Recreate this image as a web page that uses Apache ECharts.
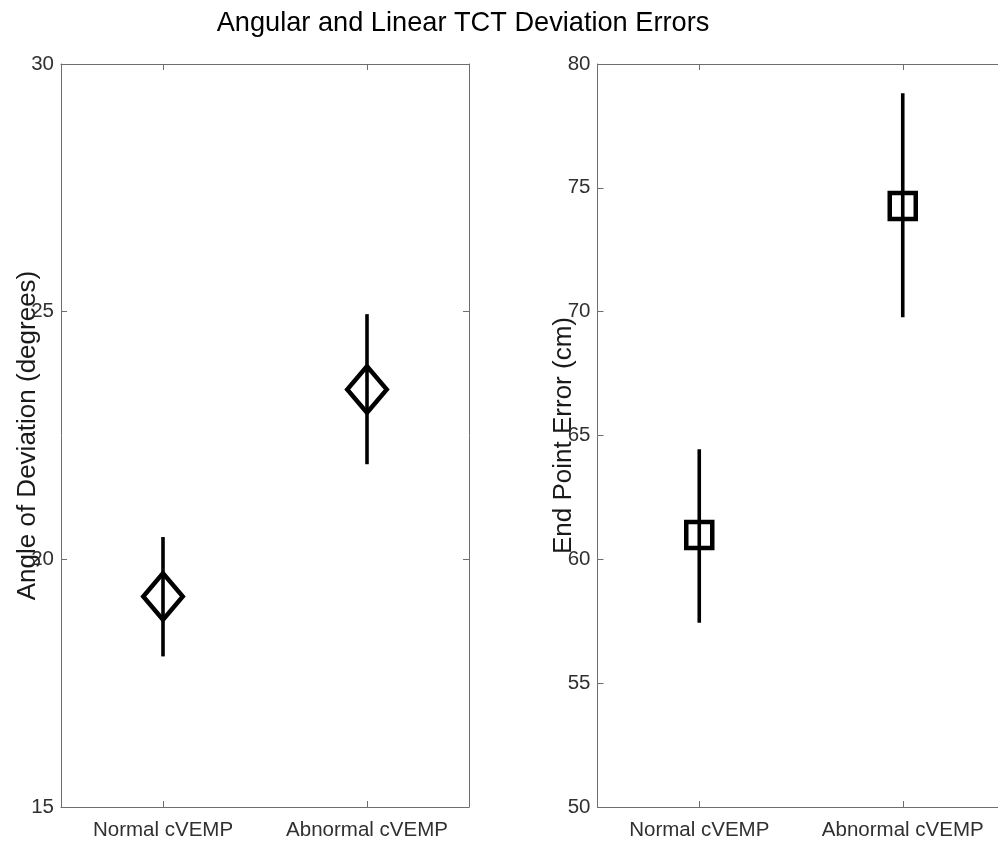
<!DOCTYPE html>
<html>
<head>
<meta charset="utf-8">
<script src="https://cdn.jsdelivr.net/npm/echarts@6/dist/echarts.min.js"></script>
<style>
  html, body { margin: 0; padding: 0; background: #fff; overflow: hidden; }
  #chart { width: 1012px; height: 842px; }
</style>
</head>
<body>
<div id="chart"></div>
<script>
const titleText = 'Angular and Linear TCT Deviation Errors';
const categories = ['Normal cVEMP', 'Abnormal cVEMP'];

const angleMean = [19.25, 23.43];
const angleLow  = [18.04, 21.92];
const angleHigh = [20.45, 24.95];
const angleTicks = [15, 20, 25, 30];
const angleName = 'Angle of Deviation (degrees)';

const endMean = [60.98, 74.27];
const endLow  = [57.44, 69.77];
const endHigh = [64.44, 78.82];
const endTicks = [50, 55, 60, 65, 70, 75, 80];
const endName = 'End Point Error (cm)';

const FONT = '"Liberation Sans", Arial, sans-serif';
const AXIS_COLOR = '#6e6e6e';
const LABEL_COLOR = '#303030';

function xAxes(gridIndex) {
  const base = {
    gridIndex: gridIndex,
    type: 'category',
    data: categories,
    boundaryGap: true,
    axisLine: { show: true, lineStyle: { color: AXIS_COLOR, width: 1 } },
    axisTick: { show: true, inside: true, alignWithLabel: true, interval: 0, length: 6, lineStyle: { color: AXIS_COLOR } },
    splitLine: { show: false }
  };
  return [
    Object.assign({}, base, {
      position: 'bottom',
      axisLabel: { show: true, interval: 0, hideOverlap: false, fontFamily: FONT, fontSize: 20.5, color: LABEL_COLOR, margin: 13 }
    }),
    Object.assign({}, base, {
      position: 'top',
      axisLabel: { show: false }
    })
  ];
}

function yAxes(gridIndex, ticks, name, gap) {
  const base = {
    gridIndex: gridIndex,
    type: 'value',
    min: ticks[0],
    max: ticks[ticks.length - 1],
    interval: ticks[1] - ticks[0],
    axisLine: { show: true, lineStyle: { color: AXIS_COLOR, width: 1 } },
    axisTick: { show: true, inside: true, length: 6, lineStyle: { color: AXIS_COLOR } },
    splitLine: { show: false }
  };
  return [
    Object.assign({}, base, {
      position: 'left',
      name: name,
      nameLocation: 'middle',
      nameGap: gap,
      nameMoveOverlap: false,
      nameTextStyle: { fontFamily: FONT, fontSize: 26, color: '#1a1a1a' },
      axisLabel: { show: true, fontFamily: FONT, fontSize: 20.5, color: LABEL_COLOR, margin: 7 }
    }),
    Object.assign({}, base, {
      position: 'right',
      axisLabel: { show: false }
    })
  ];
}

function errorSeries(xIdx, yIdx, low, high) {
  return {
    type: 'custom',
    xAxisIndex: xIdx,
    yAxisIndex: yIdx,
    data: categories.map((c, i) => [i, low[i], high[i]]),
    encode: { x: 0, y: [1, 2] },
    renderItem: function (params, api) {
      const i = api.value(0);
      const p1 = api.coord([i, api.value(1)]);
      const p2 = api.coord([i, api.value(2)]);
      return {
        type: 'line',
        shape: { x1: p1[0], y1: p1[1], x2: p2[0], y2: p2[1] },
        style: { stroke: '#000', lineWidth: 3.6, lineCap: 'butt' }
      };
    },
    z: 2
  };
}

function markerSeries(xIdx, yIdx, mean, symbol, size) {
  return {
    type: 'scatter',
    xAxisIndex: xIdx,
    yAxisIndex: yIdx,
    data: mean.map((v, i) => [i, v]),
    symbol: symbol,
    symbolSize: size,
    itemStyle: { color: 'rgba(0,0,0,0)', borderColor: '#000', borderWidth: 4.5, borderJoin: 'miter', opacity: 1 },
    emphasis: { disabled: true },
    z: 3
  };
}

const chart = echarts.init(document.getElementById('chart'), null, { renderer: 'canvas' });
chart.setOption({
  animation: false,
  backgroundColor: '#fff',
  title: {
    text: titleText,
    left: 458,
    top: 5,
    textAlign: 'center',
    textStyle: { fontFamily: FONT, fontSize: 27.2, fontWeight: 'normal', color: '#000' }
  },
  grid: [
    { left: 61, top: 64, width: 408, height: 743 },
    { left: 597.5, top: 64, width: 407, height: 743 }
  ],
  xAxis: xAxes(0).concat(xAxes(1)),
  yAxis: yAxes(0, angleTicks, angleName, 20).concat(yAxes(1, endTicks, endName, 21)),
  series: [
    errorSeries(0, 0, angleLow, angleHigh),
    markerSeries(0, 0, angleMean, 'diamond', [39.5, 46.5]),
    errorSeries(2, 2, endLow, endHigh),
    markerSeries(2, 2, endMean, 'rect', [26, 26])
  ]
});
</script>
</body>
</html>
